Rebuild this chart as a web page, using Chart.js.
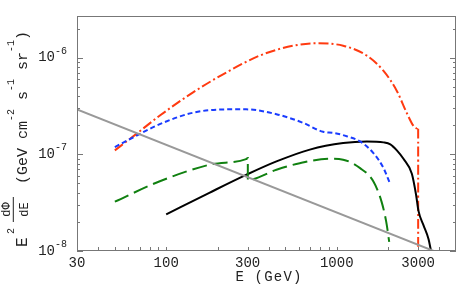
<!DOCTYPE html>
<html>
<head>
<meta charset="utf-8">
<script src="https://cdn.jsdelivr.net/npm/chart.js@4/dist/chart.umd.min.js"></script>
<style>
html, body { margin: 0; padding: 0; background: #fff; }
#wrap { width: 457px; height: 305px; position: relative; }
</style>
</head>
<body>
<div id="wrap"><canvas id="fluxChart"></canvas></div>
<script>
// energies (GeV) and E^2 dPhi/dE values
let redE = [50, 66, 91, 143, 225, 353, 555, 760, 1090, 1500, 1880, 2250, 2570, 2810, 2950, 3000, 3000];
let redFlux = [1.1e-7, 1.6e-7, 2.49e-7, 4.35e-7, 7.03e-7, 1.05e-6, 1.33e-6, 1.41e-6, 1.33e-6, 1.05e-6, 7.3e-7, 4.53e-7, 2.69e-7, 1.98e-7, 1.86e-7, 1.92e-7, 5e-9];

let blueE = [50, 66, 91, 143, 225, 294, 443, 634, 832, 953, 1143, 1370, 1640, 1880, 2050];
let blueFlux = [1.19e-7, 1.54e-7, 2.04e-7, 2.69e-7, 2.92e-7, 2.92e-7, 2.6e-7, 2.12e-7, 1.71e-7, 1.67e-7, 1.54e-7, 1.36e-7, 1.03e-7, 7.2e-8, 5.0e-8];

let greenE = [50, 91, 179, 294, 301, 301, 443, 607, 910, 1090, 1370, 1640, 1830, 1950, 2030];
let greenFlux = [3.24e-8, 5.24e-8, 7.8e-8, 8.93e-8, 9.14e-8, 5.45e-8, 6.93e-8, 8.1e-8, 9.0e-8, 8.8e-8, 7.2e-8, 5.24e-8, 3.24e-8, 2.0e-8, 1.24e-8];

let blackE = [100, 179, 294, 443, 695, 1090, 1500, 1880, 2060, 2250, 2460, 2755, 2918, 3013, 3222, 3446, 3570];
let blackFlux = [2.39e-8, 4.0e-8, 6.13e-8, 8.45e-8, 1.12e-7, 1.31e-7, 1.36e-7, 1.33e-7, 1.27e-7, 1.1e-7, 9.0e-8, 6.3e-8, 3.8e-8, 2.6e-8, 1.85e-8, 1.34e-8, 1.0e-8];

let grayE = [30, 5000];
let grayFlux = [2.92e-7, 8.1e-9];

// axis ticks
let xLabelTicks = [30, 100, 300, 1000, 3000];
let xMinorTicks = [40, 50, 60, 70, 80, 90, 100, 200, 300, 400, 500, 600, 700, 800, 900, 1000, 2000, 3000, 4000];
let yLabelTicks = [1e-8, 1e-7, 1e-6];
let yLabelExp = ['-8', '-7', '-6'];
let yMinorTicks = [2e-8, 3e-8, 4e-8, 5e-8, 6e-8, 7e-8, 8e-8, 9e-8, 2e-7, 3e-7, 4e-7, 5e-7, 6e-7, 7e-7, 8e-7, 9e-7, 2e-6];

function pts(xs, ys) {
    return xs.map(function(x, i) { return { x: x, y: ys[i] }; });
}

const MONO = '"Liberation Mono", "DejaVu Sans Mono", monospace';
const frameColor = '#777777';
const textColor = '#222222';

const framePlugin = {
    id: 'framePlugin',
    afterDraw: function(chart) {
        const ctx = chart.ctx;
        const a = chart.chartArea;
        const xs = chart.scales.x;
        const ys = chart.scales.y;
        ctx.save();
        ctx.strokeStyle = frameColor;
        ctx.lineWidth = 1;
        ctx.strokeRect(a.left + 0.5, a.top + 0.5, a.right - a.left - 1, a.bottom - a.top - 1);

        // ticks pointing inward
        ctx.beginPath();
        xMinorTicks.forEach(function(v) {
            let px = Math.round(xs.getPixelForValue(v)) + 0.5;
            ctx.moveTo(px, a.bottom);
            ctx.lineTo(px, a.bottom - 4);
        });
        yMinorTicks.forEach(function(v) {
            let py = Math.round(ys.getPixelForValue(v)) + 0.5;
            ctx.moveTo(a.left, py); ctx.lineTo(a.left + 3, py);
            ctx.moveTo(a.right, py); ctx.lineTo(a.right - 3, py);
        });
        yLabelTicks.forEach(function(v) {
            let py = Math.round(ys.getPixelForValue(v)) + 0.5;
            ctx.moveTo(a.left, py); ctx.lineTo(a.left + 6, py);
            ctx.moveTo(a.right, py); ctx.lineTo(a.right - 6, py);
        });
        ctx.stroke();

        // tick labels
        ctx.fillStyle = textColor;
        ctx.font = '14px ' + MONO;
        ctx.textAlign = 'center';
        ctx.textBaseline = 'alphabetic';
        xLabelTicks.forEach(function(v) {
            ctx.fillText(String(v), xs.getPixelForValue(v), 267);
        });
        yLabelTicks.forEach(function(v, i) {
            let py = ys.getPixelForValue(v);
            ctx.textAlign = 'right';
            ctx.font = '10px ' + MONO;
            ctx.fillText(yLabelExp[i], 67, py - 4);
            let w = ctx.measureText(yLabelExp[i]).width;
            ctx.font = '14px ' + MONO;
            ctx.fillText('10', 67 - w, py + 3.5);
        });

        // x title
        ctx.textAlign = 'center';
        ctx.font = '14px ' + MONO;
        ctx.letterSpacing = '1.2px';
        ctx.fillText('E (GeV)', 269, 281);
        ctx.letterSpacing = '0px';

        // y title, rotated
        ctx.translate(27, 248);
        ctx.rotate(-Math.PI / 2);
        ctx.textAlign = 'left';
        ctx.font = '16px ' + MONO;
        ctx.fillText('E', 1, 0);
        ctx.font = '10px ' + MONO;
        ctx.fillText('2', 14, -13);
        // d Phi / d E
        ctx.textAlign = 'center';
        ctx.font = '12px ' + MONO;
        ctx.fillText('dΦ', 38.5, -17);
        ctx.fillText('dE', 38.5, 1);
        ctx.fillRect(26, -14.2, 25, 1);
        ctx.textAlign = 'left';
        let parts = [
            ['(GeV cm', 15, 0],
            ['-2', 10, -13],
            [' s', 15, 0],
            ['-1', 10, -13],
            [' sr', 15, 0],
            ['-1', 10, -13],
            [')', 15, 0]
        ];
        let x = 64;
        parts.forEach(function(p) {
            ctx.font = p[1] + 'px ' + MONO;
            ctx.fillText(p[0], x, p[2]);
            x += ctx.measureText(p[0]).width;
        });
        ctx.restore();
    }
};

let fluxCtx = document.getElementById('fluxChart').getContext('2d');

let fluxChart = new Chart(fluxCtx, {
    type: 'line',
    data: {
        datasets: [{
            data: pts(grayE, grayFlux),
            borderColor: '#999999',
            borderWidth: 2,
            tension: 0
        }, {
            data: pts(greenE, greenFlux),
            borderColor: '#108010',
            borderWidth: 2,
            borderDash: [15, 6],
            cubicInterpolationMode: 'monotone'
        }, {
            data: pts(blueE, blueFlux),
            borderColor: '#1a3cff',
            borderWidth: 2,
            borderDash: [5, 3],
            cubicInterpolationMode: 'monotone'
        }, {
            data: pts(blackE, blackFlux),
            borderColor: '#000000',
            borderWidth: 2,
            cubicInterpolationMode: 'monotone'
        }, {
            data: pts(redE, redFlux),
            borderColor: '#ff3a10',
            borderWidth: 2,
            borderDash: [10, 3, 2, 3],
            cubicInterpolationMode: 'monotone'
        }]
    },
    options: {
        responsive: true,
        maintainAspectRatio: false,
        animation: false,
        layout: {
            padding: { left: 77, top: 16, right: 1, bottom: 54 }
        },
        elements: {
            point: { radius: 0 }
        },
        plugins: {
            legend: { display: false },
            tooltip: { enabled: false }
        },
        scales: {
            x: {
                type: 'logarithmic',
                min: 30,
                max: 5000,
                display: false
            },
            y: {
                type: 'logarithmic',
                min: 1e-8,
                max: 2.7e-6,
                display: false
            }
        }
    },
    plugins: [framePlugin]
});
</script>
</body>
</html>
